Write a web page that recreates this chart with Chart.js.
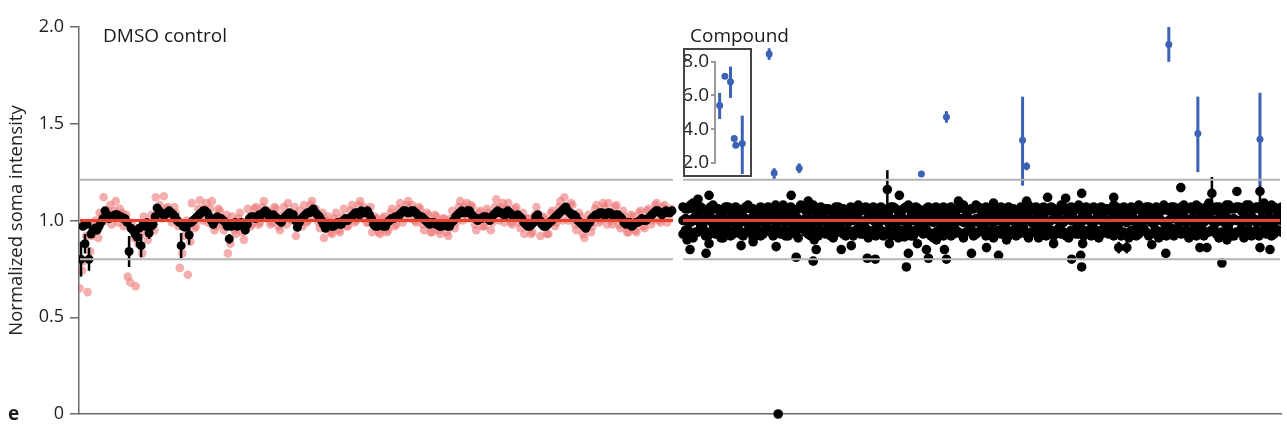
<!DOCTYPE html>
<html><head><meta charset="utf-8">
<script src="https://cdn.jsdelivr.net/npm/chart.js@4"></script>
<style>
html,body{margin:0;padding:0;background:#fff;}
#wrap{position:relative;width:1287px;height:434px;overflow:hidden;}
#main{position:absolute;left:0;top:0;}
#insetBox{position:absolute;left:683px;top:48px;width:69px;height:129px;border:2px solid #444;box-sizing:border-box;background:#fff;}
#inset{position:absolute;left:0;top:0;}
</style></head><body>
<div id="wrap">
<canvas id="main" width="1287" height="434"></canvas>
<div id="insetBox"><canvas id="inset" width="65" height="125"></canvas></div>
</div>
<script>
// ---------- DATA ----------
const yTicks = [0, 0.5, 1.0, 1.5, 2.0];
const insetTicks = [2.0, 4.0, 6.0, 8.0];
const meanLevel = 1.0;
const upperLimit = 1.21;
const lowerLimit = 0.80;
const dmsoRange = [0.5, 296.5];
const compRange = [301.5, 599.5];

// DMSO control: per-well means (black, two interleaved plates) and replicate values (pink)
const dmsoMean = [
 0.80,0.88,0.80,0.95,0.95,0.99,1.05,1.01,1.02,1.03,
 1.02,1.01,0.84,0.95,0.915,0.87,0.97,0.935,0.98,1.065,
 1.04,1.03,1.05,1.03,1.00,0.87,0.965,0.925,1.00,1.02,
 1.04,1.05,1.02,0.98,1.02,1.01,0.99,0.905,0.98,0.97,
 0.99,0.95,1.01,1.02,1.02,1.03,1.05,1.02,1.03,1.01,
 0.99,1.02,1.04,1.03,0.965,1.01,1.03,1.04,1.06,1.03,
 1.00,0.96,0.98,0.97,0.99,0.98,1.01,1.01,1.03,1.04,
 1.05,1.04,1.03,0.98,0.97,0.98,0.97,1.00,1.01,1.02,
 1.04,1.05,1.04,1.05,1.03,1.02,1.00,0.98,0.99,0.98,
 0.97,0.98,0.97,1.00,1.03,1.05,1.04,1.05,1.02,1.00,
 1.01,1.02,1.00,1.03,1.05,1.04,1.03,1.04,1.02,1.03,
 1.01,0.98,0.97,0.99,1.03,0.98,0.97,0.99,1.01,1.03,
 1.05,1.07,1.04,1.03,1.00,0.98,0.96,0.99,1.02,1.03,
 1.04,1.03,1.04,1.02,1.03,1.01,0.98,0.99,0.98,0.99,
 1.01,1.00,1.02,1.04,1.05,1.03,1.05,1.04];
const dmsoSd = [
 0.09,0.05,0.06,0.02,0.02,0.015,0.015,0.015,0.015,0.015,
 0.015,0.015,0.08,0.02,0.05,0.06,0.02,0.03,0.015,0.015,
 0.015,0.015,0.015,0.015,0.015,0.065,0.02,0.05,0.015,0.015,
 0.015,0.015,0.015,0.02,0.015,0.015,0.015,0.025,0.015,0.015,
 0.015,0.02,0.015,0.015,0.015,0.015,0.015,0.015,0.015,0.015,
 0.015,0.015,0.015,0.015,0.02,0.015,0.015,0.015,0.015,0.015,
 0.015,0.02,0.015,0.015,0.015,0.015,0.015,0.015,0.015,0.015,
 0.015,0.015,0.015,0.015,0.015,0.015,0.015,0.015,0.015,0.015,
 0.015,0.015,0.015,0.015,0.015,0.015,0.015,0.015,0.015,0.015,
 0.015,0.015,0.015,0.015,0.015,0.015,0.015,0.015,0.015,0.015,
 0.015,0.015,0.015,0.015,0.015,0.015,0.015,0.015,0.015,0.015,
 0.015,0.015,0.015,0.015,0.015,0.02,0.015,0.015,0.015,0.015,
 0.015,0.015,0.015,0.015,0.015,0.015,0.02,0.015,0.015,0.015,
 0.015,0.015,0.015,0.015,0.015,0.015,0.015,0.015,0.015,0.015,
 0.015,0.015,0.015,0.015,0.015,0.015,0.015,0.015];
const dmsoMean2 = [
 0.97,0.98,0.93,0.96,0.97,1.01,1.03,1.02,1.03,1.02,
 1.01,0.99,0.96,0.93,0.96,0.98,0.99,0.97,1.02,1.05,
 1.03,1.04,1.04,1.02,0.99,0.97,0.98,0.99,1.01,1.03,
 1.05,1.04,1.00,1.00,1.01,1.00,0.97,0.97,0.99,0.98,
 0.97,0.98,1.02,1.01,1.03,1.04,1.04,1.02,1.02,1.00,
 1.01,1.03,1.03,1.00,0.99,1.02,1.04,1.05,1.04,1.02,
 0.98,0.97,0.97,0.98,0.98,1.00,1.00,1.02,1.04,1.03,
 1.04,1.05,1.01,0.97,0.98,0.97,0.99,1.01,1.02,1.03,
 1.05,1.04,1.05,1.04,1.02,1.01,0.99,0.99,0.98,0.97,
 0.98,0.97,0.99,1.02,1.04,1.04,1.05,1.03,1.01,1.01,
 1.02,1.01,1.02,1.04,1.04,1.03,1.05,1.03,1.02,1.02,
 0.99,0.97,0.98,1.02,1.00,0.97,0.98,1.00,1.02,1.04,
 1.06,1.05,1.03,1.02,0.99,0.97,0.98,1.01,1.03,1.04,
 1.03,1.04,1.03,1.03,1.02,0.99,0.99,0.97,0.99,1.00,
 1.00,1.01,1.03,1.05,1.04,1.04,1.04,1.05];
const dmsoRepA = [
 0.65,0.79,0.63,0.92,1.00,1.04,1.12,1.05,0.98,1.10,
 1.06,0.97,0.71,0.99,0.66,0.92,1.02,0.90,1.03,1.12,
 1.08,1.125,1.07,0.99,1.04,0.755,0.92,0.72,1.09,0.97,
 1.105,1.06,0.99,1.10,0.97,1.05,0.95,0.83,1.02,0.93,
 1.04,0.90,1.06,0.98,1.07,0.99,1.10,1.05,0.99,1.06,
 0.95,1.07,1.09,1.00,0.92,1.05,1.08,1.00,1.10,1.06,
 0.96,0.91,1.02,0.93,1.04,0.94,1.06,0.97,1.08,1.00,
 1.10,1.07,0.99,0.94,1.01,0.93,1.02,0.95,1.06,0.98,
 1.09,1.01,1.10,1.08,0.99,1.06,0.95,1.03,0.94,1.02,
 0.93,1.01,0.92,1.05,0.99,1.10,1.07,1.01,1.07,0.95,
 1.05,0.97,1.04,0.99,1.11,1.07,0.99,1.09,0.98,1.07,
 0.96,0.93,1.01,0.94,1.07,0.92,1.01,0.93,1.05,0.99,
 1.10,1.12,1.00,1.08,0.95,1.02,0.91,1.03,0.97,1.08,
 1.00,1.07,1.09,0.98,1.08,0.96,1.02,0.94,1.02,0.94,
 1.05,0.96,1.06,1.00,1.09,0.99,1.08,1.01];
const dmsoRepB = [
 0.74,0.92,0.84,0.98,0.91,1.02,1.00,1.08,1.05,0.99,
 1.04,1.03,0.68,0.91,0.88,0.83,0.94,0.97,0.95,1.03,
 1.01,1.06,1.01,1.07,0.97,0.83,1.00,0.89,0.96,1.06,
 1.00,1.09,1.06,0.95,1.06,0.98,1.03,0.88,0.95,1.01,
 0.94,0.98,0.97,1.06,0.98,1.07,1.01,0.98,1.07,0.97,
 1.03,0.98,1.01,1.07,1.00,0.97,0.99,1.08,1.02,0.99,
 1.04,1.00,0.94,1.01,0.95,1.02,0.97,1.05,0.99,1.08,
 1.01,0.99,1.07,1.02,0.94,1.01,0.94,1.04,0.97,1.06,
 0.99,1.08,1.01,1.00,1.07,0.98,1.04,0.94,1.03,0.95,
 1.01,0.94,1.01,0.96,1.07,1.00,1.09,1.08,0.98,1.04,
 0.97,1.06,0.95,1.07,1.00,1.09,1.06,0.99,1.06,0.99,
 1.04,1.01,0.93,1.03,0.99,1.02,0.93,1.04,0.97,1.07,
 1.00,1.04,1.09,0.98,1.04,0.93,1.00,0.94,1.06,0.99,
 1.09,0.98,1.00,1.07,0.98,1.05,0.94,1.03,0.95,1.04,
 0.97,1.05,0.98,1.08,1.00,1.07,0.99,1.06];

// Compound screen: dense band of wells (two interleaved plates, upper / middle / lower members)
const compHigh = [
 1.07,1.06,1.09,1.05,1.06,1.04,1.08,1.06,1.05,1.07,
 1.04,1.06,1.05,1.08,1.06,1.04,1.06,1.07,1.05,1.06,
 1.08,1.05,1.04,1.06,1.07,1.05,1.08,1.06,1.04,1.06,
 1.05,1.07,1.06,1.04,1.05,1.08,1.06,1.05,1.07,1.05,
 1.06,1.04,1.07,1.05,1.06,1.08,1.05,1.06,1.04,1.07,
 1.06,1.05,1.07,1.06,1.04,1.06,1.08,1.05,1.06,1.07,
 1.05,1.06,1.09,1.06,1.05,1.07,1.06,1.04,1.06,1.08,
 1.05,1.06,1.07,1.05,1.06,1.04,1.07,1.06,1.05,1.08,
 1.06,1.05,1.07,1.06,1.04,1.06,1.08,1.05,1.07,1.06,
 1.05,1.08,1.06,1.07,1.05,1.06,1.08,1.05,1.07,1.06,
 1.08,1.06,1.05,1.07,1.06,1.09,1.05,1.07,1.06,1.08,
 1.06,1.07,1.05,1.08,1.06,1.07,1.09,1.06,1.07,1.05];
const compMid = [
 1.00,0.99,1.01,1.02,0.99,1.00,0.98,1.01,1.02,1.00,
 0.99,1.01,1.00,0.98,1.02,1.01,0.99,1.00,1.02,0.99,
 1.01,1.00,0.98,1.01,0.99,1.02,1.00,0.99,1.01,1.00,
 0.98,1.02,1.01,0.99,1.00,1.01,0.99,1.02,1.00,0.98,
 1.01,0.99,1.00,1.02,1.01,0.99,1.00,0.98,1.02,1.01,
 0.99,1.00,1.01,0.98,1.02,1.00,0.99,1.01,1.00,0.99,
 1.02,1.01,0.99,1.00,0.98,1.01,1.02,1.00,0.99,1.01,
 1.00,0.98,1.02,0.99,1.01,1.00,0.99,1.02,1.01,0.98,
 1.00,1.01,0.99,1.02,1.00,0.99,1.01,0.98,1.00,1.02,
 1.01,0.99,1.00,1.01,0.98,1.02,0.99,1.00,1.01,0.99,
 1.02,1.00,0.98,1.01,0.99,1.02,1.00,1.01,0.99,0.98,
 1.01,1.00,1.02,0.99,1.01,1.00,0.98,1.02,1.00,1.01];
const compLow = [
 0.93,0.95,0.91,0.94,0.96,0.92,0.95,0.94,0.91,0.95,
 0.93,0.96,0.92,0.94,0.91,0.95,0.93,0.96,0.92,0.94,
 0.95,0.92,0.94,0.91,0.96,0.93,0.95,0.92,0.94,0.96,
 0.91,0.94,0.93,0.95,0.92,0.96,0.93,0.91,0.95,0.94,
 0.92,0.95,0.93,0.91,0.94,0.96,0.92,0.95,0.93,0.94,
 0.91,0.95,0.92,0.96,0.93,0.94,0.91,0.95,0.92,0.94,
 0.96,0.93,0.91,0.95,0.94,0.92,0.95,0.93,0.96,0.92,
 0.94,0.91,0.95,0.93,0.92,0.96,0.94,0.91,0.95,0.93,
 0.92,0.95,0.94,0.91,0.96,0.93,0.92,0.95,0.94,0.91,
 0.95,0.93,0.96,0.92,0.94,0.91,0.95,0.93,0.92,0.96,
 0.94,0.91,0.95,0.93,0.92,0.94,0.96,0.91,0.93,0.95,
 0.92,0.94,0.91,0.95,0.93,0.92,0.94,0.96,0.93,0.95];
const compHigh2 = [
 1.06,1.08,1.05,1.07,1.05,1.07,1.06,1.04,1.07,1.05,
 1.07,1.05,1.07,1.06,1.05,1.07,1.05,1.06,1.08,1.04,
 1.06,1.07,1.05,1.08,1.05,1.06,1.05,1.07,1.06,1.05,
 1.07,1.05,1.04,1.07,1.06,1.05,1.07,1.06,1.04,1.07,
 1.05,1.07,1.06,1.04,1.07,1.05,1.07,1.04,1.06,1.05,
 1.07,1.06,1.04,1.07,1.05,1.07,1.05,1.06,1.08,1.05,
 1.07,1.05,1.06,1.07,1.04,1.06,1.05,1.07,1.05,1.06,
 1.07,1.04,1.06,1.07,1.05,1.08,1.05,1.07,1.06,1.05,
 1.07,1.06,1.05,1.07,1.06,1.05,1.07,1.06,1.05,1.07,
 1.06,1.05,1.07,1.05,1.07,1.05,1.06,1.07,1.05,1.07,
 1.06,1.07,1.08,1.05,1.07,1.06,1.07,1.05,1.08,1.06,
 1.07,1.05,1.08,1.06,1.07,1.05,1.06,1.08,1.05,1.07];
const compMid2 = [
 1.01,0.99,1.00,0.98,1.01,1.02,1.00,0.99,0.98,1.01,
 1.02,0.99,1.01,1.00,0.98,1.00,1.02,1.01,0.99,1.00,
 0.99,1.02,1.00,0.99,1.01,0.98,1.01,1.02,0.99,1.01,
 1.00,0.99,1.02,1.00,1.01,0.98,1.00,1.01,0.99,1.02,
 1.00,1.01,0.98,1.00,0.99,1.02,1.01,1.00,0.99,1.00,
 1.02,0.99,1.00,1.01,0.99,1.01,1.02,0.98,1.01,1.00,
 0.99,1.00,1.02,1.01,0.99,1.00,0.98,1.01,1.02,0.99,
 1.01,1.02,0.99,1.00,1.02,0.98,1.01,1.00,0.99,1.01,
 1.02,0.99,1.01,1.00,0.98,1.01,1.00,1.02,0.99,1.00,
 0.99,1.01,1.02,0.99,1.01,1.00,0.98,1.01,1.02,1.00,
 0.99,1.01,1.00,0.98,1.02,1.00,0.99,1.01,1.02,1.00,
 1.00,0.99,1.01,1.02,0.99,1.01,1.00,0.99,1.01,1.00];
const compLow2 = [
 0.95,0.92,0.94,0.96,0.92,0.94,0.93,0.96,0.94,0.92,
 0.95,0.93,0.94,0.96,0.93,0.92,0.95,0.94,0.96,0.93,
 0.92,0.95,0.93,0.96,0.94,0.92,0.94,0.95,0.93,0.92,
 0.95,0.96,0.92,0.94,0.95,0.93,0.96,0.94,0.92,0.95,
 0.94,0.92,0.96,0.95,0.93,0.92,0.95,0.94,0.96,0.92,
 0.94,0.93,0.96,0.92,0.95,0.93,0.94,0.96,0.93,0.95,
 0.92,0.95,0.94,0.93,0.96,0.94,0.92,0.95,0.93,0.94,
 0.96,0.93,0.92,0.95,0.94,0.93,0.92,0.95,0.93,0.96,
 0.94,0.92,0.95,0.93,0.94,0.96,0.95,0.92,0.93,0.95,
 0.92,0.96,0.94,0.93,0.95,0.94,0.92,0.96,0.94,0.93,
 0.95,0.93,0.92,0.96,0.94,0.95,0.93,0.94,0.95,0.92,
 0.94,0.96,0.93,0.92,0.95,0.94,0.93,0.92,0.95,0.94];

// Compound wells outside the band (position, value, error range)
const outPos = [303.5,305,309,314.5,314.5,313,320.5,330.5,336.5,348,349,355.5,358,364,367,368,366.5,380.5,385.5,393.5,
 397.5,403.5,404.5,409.5,412,414,413,418.5,423,424,428,432,433,439,445.5,453,459,463,473,474,
 483.5,486.5,492.5,495.5,500.5,500,501,500.5,516.5,519,523,535.5,542.5,550,559.5,563,565.5,570.5,573,578,
 589.5,589.5,594.5,596.5];
const outVal = [0.90,0.85,1.11,1.13,0.88,0.83,0.91,0.87,0.89,0.865,0.0,1.13,0.81,1.10,0.90,0.85,0.79,0.85,0.87,0.805,
 0.80,1.16,0.88,1.13,0.915,0.83,0.76,0.88,0.85,0.805,0.90,0.85,0.80,1.10,0.83,0.86,0.82,0.90,1.10,0.91,
 1.12,0.88,1.115,0.80,1.14,0.82,0.88,0.76,1.12,0.86,0.86,0.875,0.83,1.17,0.86,0.86,1.14,0.78,0.90,1.15,
 1.15,0.86,0.85,0.97];
const outLo = [null,null,null,null,null,null,null,null,null,null,null,null,0.79,null,null,null,0.77,null,null,null,
 null,1.00,null,null,null,null,null,null,null,null,null,null,null,null,null,null,null,null,null,null,
 null,null,null,null,null,null,null,null,null,0.83,0.83,null,null,null,null,null,1.05,null,null,null,
 1.05,null,null,null];
const outHi = [null,null,null,null,null,null,null,null,null,null,null,null,0.83,null,null,null,0.81,null,null,null,
 null,1.26,null,null,null,null,null,null,null,null,null,null,null,null,null,null,null,null,null,null,
 null,null,null,null,null,null,null,null,null,0.89,0.89,null,null,null,null,null,1.225,null,null,null,
 1.20,null,null,null];

// Hits above the upper limit (blue)
const hitPos = [344.5,347,359.5,420.5,433,471,473,544,558.5,589.5];
const hitVal = [1.86,1.245,1.27,1.24,1.535,1.415,1.28,1.91,1.45,1.42];
const hitLo  = [1.83,1.215,1.245,1.235,1.505,1.18,1.26,1.82,1.25,1.18];
const hitHi  = [1.89,1.27,1.295,1.245,1.565,1.64,1.30,2.00,1.64,1.66];

// Inset: strong hits on an expanded scale
const insetPos = [1.5,3.2,5.0,6.2,6.7,8.8];
const insetVal = [5.4,7.13,6.8,3.45,3.05,3.15];
const insetLo  = [4.6,7.03,5.85,3.3,3.0,1.35];
const insetHi  = [6.15,7.23,7.7,3.6,3.1,4.8];

// ---------- STYLE / BUILD ----------
const BLACK = '#000000', PINK = 'rgba(238,115,115,0.58)', BLUE = '#3b62b4';
const RED = '#e5432f', GRAY = '#b5b5b5';
const FONT = '"Open Sans", "DejaVu Sans", sans-serif';

const pts = (xs, ys) => ys.map((v, i) => ({x: xs[i], y: v}));
const idx = (arr, start, step) => arr.map((_, i) => start + step * i);

const dmsoX = idx(dmsoMean, 1, 2);
const dmso2X = idx(dmsoMean2, 2, 2);
const repAX = idx(dmsoRepA, 0.3, 2);
const repBX = idx(dmsoRepB, 1.6, 2);
const compX = idx(compHigh, 301.5, 2.5);
const comp2X = idx(compHigh2, 302.75, 2.5);

const errorBars = {
  id: 'errorBars',
  beforeDatasetDraw(chart, args) {
    const ds = chart.data.datasets[args.index];
    if (!ds.errLo) return;
    const xs = chart.scales.x, ys = chart.scales.y, ctx = chart.ctx;
    ctx.save();
    ctx.strokeStyle = ds.errColor; ctx.lineWidth = ds.errWidth; ctx.lineCap = 'butt';
    ds.data.forEach((p, i) => {
      const lo = ds.errLo[i], hi = ds.errHi[i];
      if (lo == null || hi == null) return;
      const px = xs.getPixelForValue(p.x);
      ctx.beginPath();
      ctx.moveTo(px, ys.getPixelForValue(lo));
      ctx.lineTo(px, ys.getPixelForValue(hi));
      ctx.stroke();
    });
    ctx.restore();
  }
};

const labels = {
  id: 'labels',
  afterDraw(chart) {
    const ctx = chart.ctx;
    ctx.save();
    ctx.fillStyle = '#1a1a1a';
    ctx.textBaseline = 'alphabetic';
    ctx.textAlign = 'left';
    ctx.font = '19px ' + FONT;
    ctx.fillText('DMSO control', 103, 42);
    ctx.fillText('Compound', 690, 42);
    ctx.font = 'bold 19px ' + FONT;
    ctx.fillText('e', 8, 420);
    ctx.restore();
  }
};

const seg = (range, level) => [{x: range[0], y: level}, {x: range[1], y: level}];
const lineDs = (data, color, width) => ({data, showLine: true, borderColor: color, borderWidth: width,
  pointRadius: 0, pointHoverRadius: 0, fill: false, clip: false});
const dots = (data, color, r) => ({data, pointRadius: r, backgroundColor: color, borderWidth: 0});

const datasets = [
  lineDs(seg(dmsoRange, meanLevel), RED, 3),
  lineDs(seg(compRange, meanLevel), RED, 3),
  lineDs(seg(dmsoRange, upperLimit), GRAY, 2),
  lineDs(seg(compRange, upperLimit), GRAY, 2),
  lineDs(seg(dmsoRange, lowerLimit), GRAY, 2),
  lineDs(seg(compRange, lowerLimit), GRAY, 2),
  Object.assign(dots(pts(hitPos, hitVal), BLUE, 3.5), {errLo: hitLo, errHi: hitHi, errColor: BLUE, errWidth: 3, clip: false}),
  Object.assign(dots(pts(outPos, outVal), BLACK, 4.8), {errLo: outLo, errHi: outHi, errColor: BLACK, errWidth: 2.5, clip: false}),
  dots(pts(compX, compHigh), BLACK, 4.8),
  dots(pts(comp2X, compHigh2), BLACK, 4.8),
  dots(pts(compX, compMid), BLACK, 4.8),
  dots(pts(comp2X, compMid2), BLACK, 4.8),
  dots(pts(compX, compLow), BLACK, 4.8),
  dots(pts(comp2X, compLow2), BLACK, 4.8),
  Object.assign(dots(pts(dmsoX, dmsoMean), BLACK, 4.5),
    {errLo: dmsoMean.map((v,i)=>v-dmsoSd[i]), errHi: dmsoMean.map((v,i)=>v+dmsoSd[i]), errColor: BLACK, errWidth: 2.5}),
  dots(pts(dmso2X, dmsoMean2), BLACK, 4.5),
  dots(pts(repAX, dmsoRepA), PINK, 4.3),
  dots(pts(repBX, dmsoRepB), PINK, 4.3)
];

new Chart(document.getElementById('main'), {
  type: 'scatter',
  data: {datasets},
  options: {
    responsive: false, animation: false, devicePixelRatio: 1,
    layout: {padding: {top: 27, right: 6, bottom: 20, left: 0}},
    plugins: {legend: {display: false}, tooltip: {enabled: false}},
    scales: {
      x: {type: 'linear', min: 0, max: 600, ticks: {display: false},
          grid: {display: false, drawTicks: false},
          border: {display: true, color: '#6b6b6b', width: 1.5}},
      y: {type: 'linear', min: 0, max: 2,
          afterBuildTicks: s => { s.ticks = yTicks.map(v => ({value: v})); },
          afterFit: s => { s.width = 79; },
          ticks: {callback: v => v === 0 ? '0' : v.toFixed(1), color: '#222', padding: 6,
                  font: {family: FONT, size: 18}},
          grid: {display: true, drawOnChartArea: false, tickLength: 9, color: '#6b6b6b', lineWidth: 1.5},
          border: {display: true, color: '#6b6b6b', width: 1.5},
          title: {display: true, text: 'Normalized soma intensity', color: '#222',
                  font: {family: FONT, size: 18.5}, padding: {top: 6, bottom: 0}}}
    }
  },
  plugins: [errorBars, labels]
});

new Chart(document.getElementById('inset'), {
  type: 'scatter',
  data: {datasets: [{data: pts(insetPos, insetVal), errLo: insetLo, errHi: insetHi, errColor: BLUE, errWidth: 3,
    pointRadius: 3.5, backgroundColor: BLUE, borderWidth: 0, clip: false}]},
  options: {
    responsive: false, animation: false, devicePixelRatio: 1,
    layout: {padding: {top: 9, right: 0, bottom: 12, left: 0}},
    plugins: {legend: {display: false}, tooltip: {enabled: false}},
    scales: {
      x: {type: 'linear', min: 0, max: 10, display: false},
      y: {type: 'linear', min: 2, max: 8,
          afterBuildTicks: s => { s.ticks = insetTicks.map(v => ({value: v})); },
          afterFit: s => { s.width = 30; },
          ticks: {callback: v => v.toFixed(1), color: '#222', padding: 2,
                  font: {family: FONT, size: 19, lineHeight: 1}},
          grid: {display: true, drawOnChartArea: false, tickLength: 4, color: '#999', lineWidth: 2},
          border: {display: true, color: '#999', width: 2}}
    }
  },
  plugins: [errorBars]
});
</script>
</body></html>
